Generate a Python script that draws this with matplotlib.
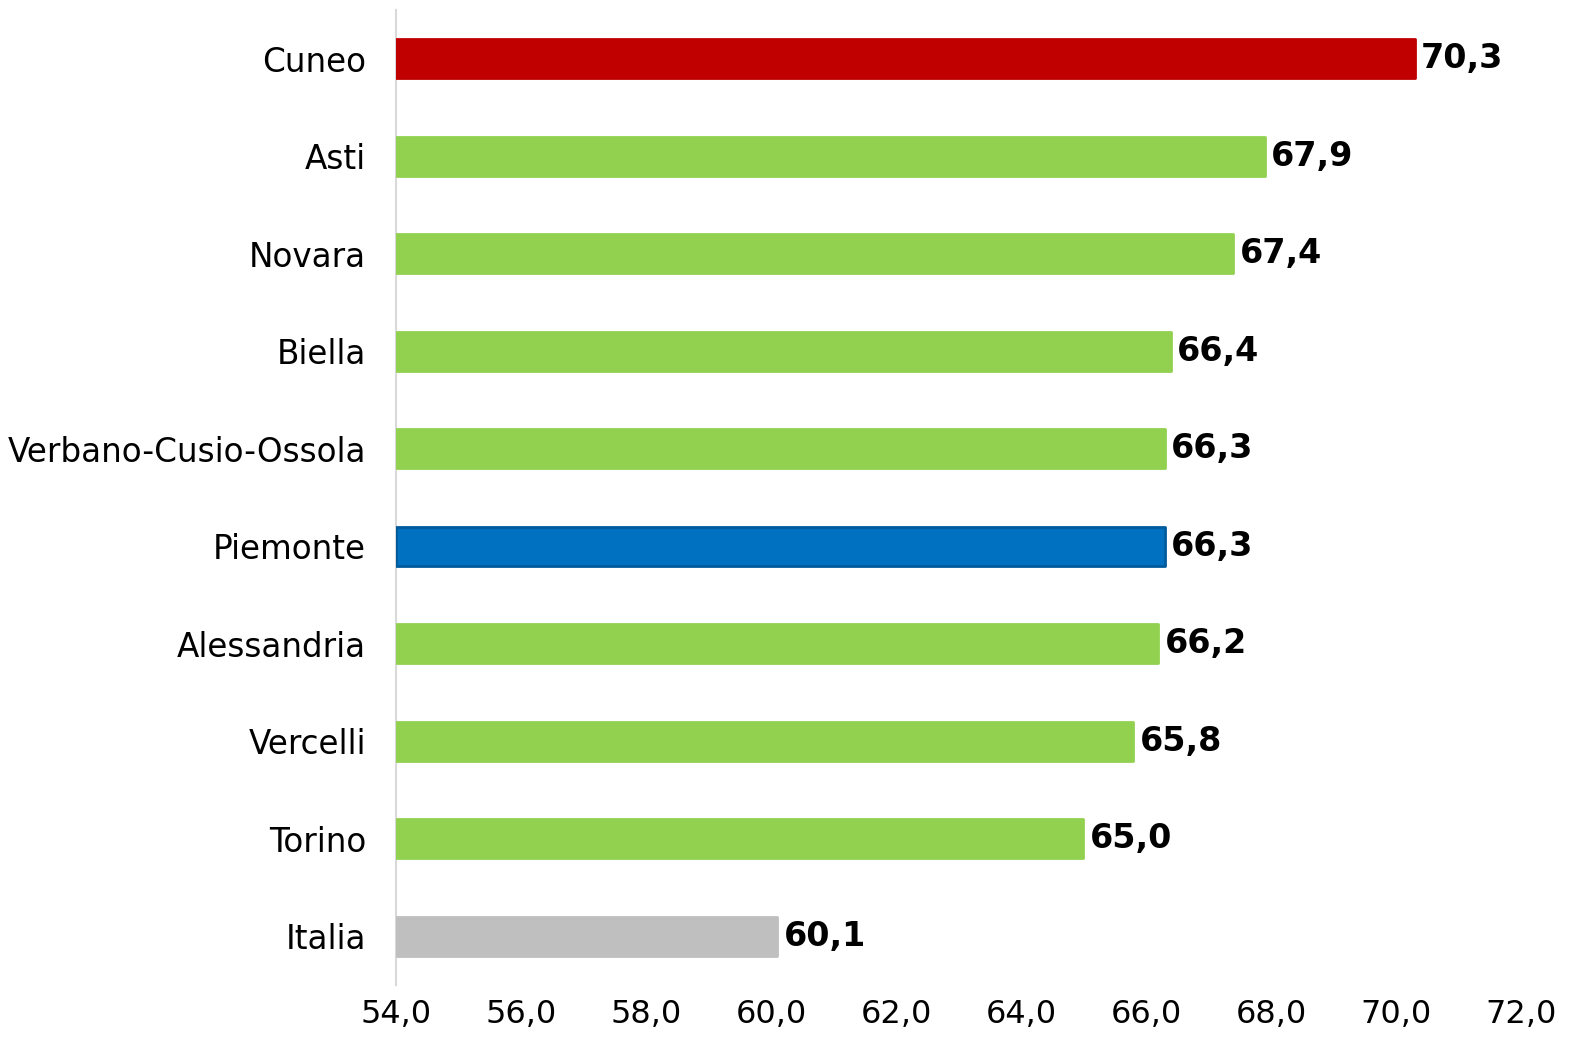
import matplotlib
matplotlib.use("Agg")
import matplotlib.pyplot as plt

categories = ["Cuneo", "Asti", "Novara", "Biella", "Verbano-Cusio-Ossola",
              "Piemonte", "Alessandria", "Vercelli", "Torino", "Italia"]
values = [70.3, 67.9, 67.4, 66.4, 66.3, 66.3, 66.2, 65.8, 65.0, 60.1]
colors = ["#C00000", "#92D050", "#92D050", "#92D050", "#92D050",
          "#0070C0", "#92D050", "#92D050", "#92D050", "#BFBFBF"]
edges = ["#C00000", "#92D050", "#92D050", "#92D050", "#92D050",
         "#005B9C", "#92D050", "#92D050", "#92D050", "#BFBFBF"]
xticks = [54, 56, 58, 60, 62, 64, 66, 68, 70, 72]

plt.rcParams['font.family'] = ['DejaVu Sans']
fig = plt.figure(figsize=(15.85, 10.42), dpi=100)
ax = fig.add_axes([0.2498, 0.0547, 0.7098, 0.9357])

base = 54
pos = list(range(len(categories)))
bars = ax.barh(pos, [v - base for v in values], left=base, height=0.4,
               color=colors, edgecolor=edges, linewidth=2)
for b in bars:
    b.set_joinstyle("round")
for p, v in zip(pos, values):
    ax.text(v + 0.1, p, f"{v:.1f}".replace(".", ","), va="center", ha="left",
            fontsize=24, fontweight="bold", color="black")

ax.set_xlim(54, 72)
ax.set_ylim(len(categories) - 0.5, -0.5)
ax.set_yticks(pos)
ax.set_yticklabels(categories, fontsize=23.5)
ax.set_xticks(xticks)
ax.set_xticklabels([f"{t:.1f}".replace(".", ",") for t in xticks], fontsize=23)
ax.tick_params(axis="both", length=0)
ax.tick_params(axis="y", pad=21.5)
ax.tick_params(axis="x", pad=10)
for s in ["top", "right", "bottom"]:
    ax.spines[s].set_visible(False)
ax.spines["left"].set_color("#D9D9D9")
ax.spines["left"].set_linewidth(1.5)
ax.spines["left"].set_zorder(0)

fig.savefig("out.png", dpi=100)
